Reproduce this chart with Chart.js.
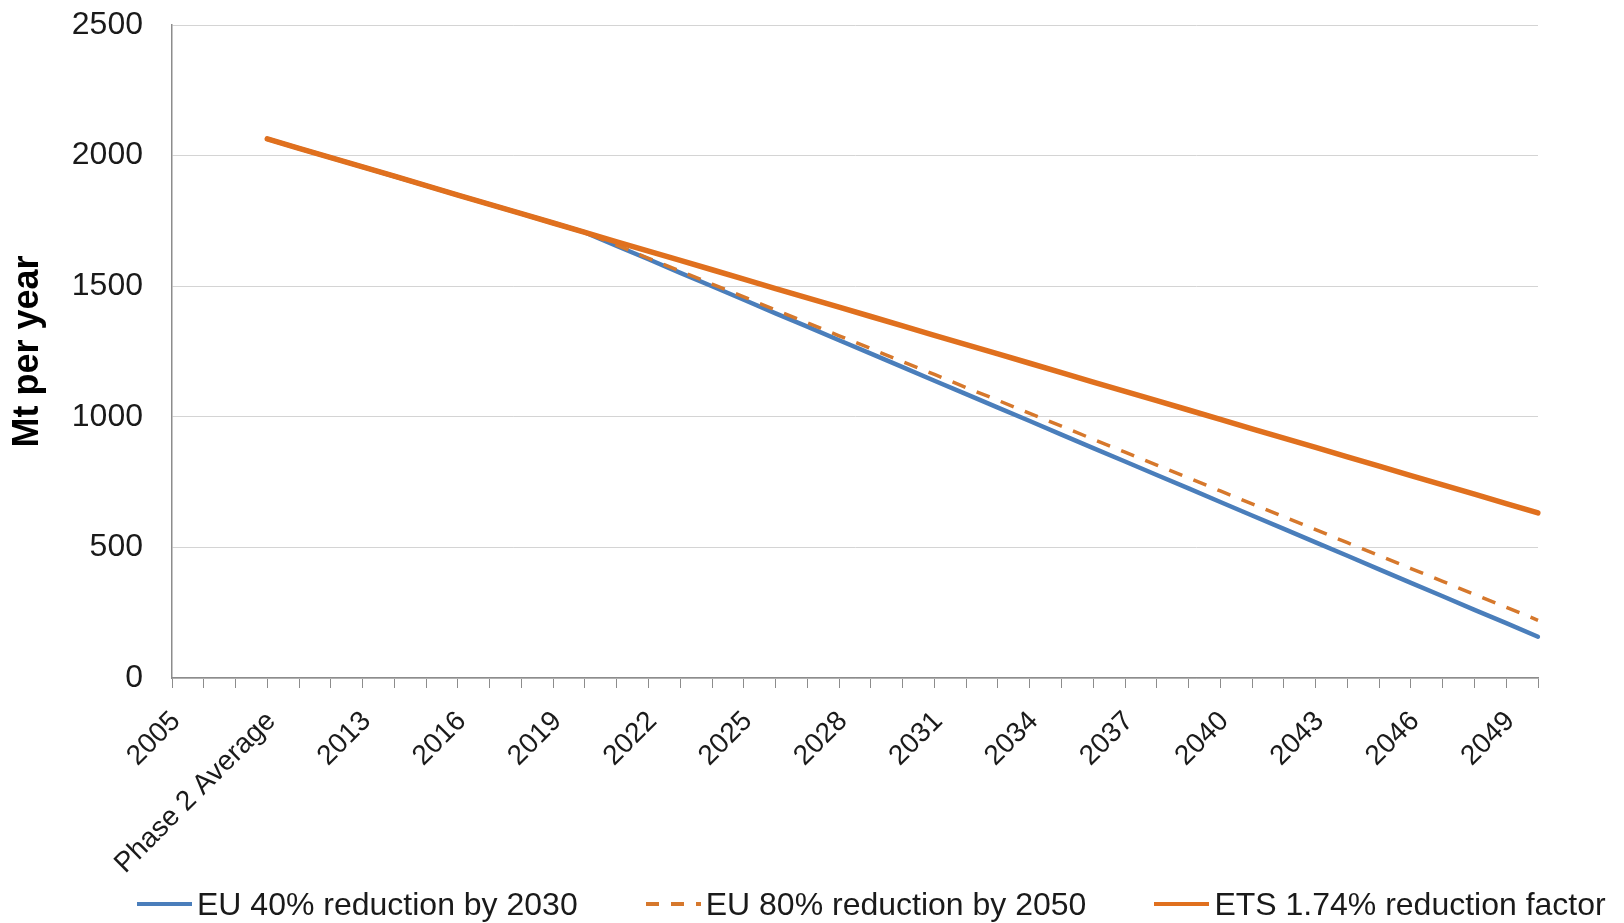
<!DOCTYPE html>
<html>
<head>
<meta charset="utf-8">
<title>EU ETS cap trajectories</title>
<script src="https://cdn.jsdelivr.net/npm/chart.js@4.4.1/dist/chart.umd.min.js"></script>
<style>
  html, body { margin: 0; padding: 0; background: #fff; }
  #wrap { position: relative; width: 1624px; height: 923px; }
  #legend {
    position: absolute; left: 137px; top: 888px;
    display: flex; gap: 68px; white-space: nowrap;
    font: 32px/32px 'Liberation Sans', Arial, sans-serif; color: #1a1a1a;
  }
  #legend .item { display: flex; align-items: center; }
  #legend .swatch { display: inline-block; width: 55px; margin-right: 5px; }
</style>
</head>
<body>
<div id="wrap">
  <canvas id="chart"></canvas>
  <div id="legend"></div>
</div>
<script>
// ─── Data ─────────────────────────────────────────────────────────────────────

const categories = [
  "2005", "2006", "2007", "Phase 2 Average", "2011", "2012",
  "2013", "2014", "2015", "2016", "2017", "2018", "2019", "2020",
  "2021", "2022", "2023", "2024", "2025", "2026", "2027", "2028",
  "2029", "2030", "2031", "2032", "2033", "2034", "2035", "2036",
  "2037", "2038", "2039", "2040", "2041", "2042", "2043", "2044",
  "2045", "2046", "2047", "2048", "2049", "2050",
];

// Mt per year
const eu40 = [
  null, null, null, 2064, 2028, 1992, 1957, 1921, 1885, 1849, 1813, 1778, 1742,
  1706, 1654, 1603, 1551, 1500, 1448, 1396, 1345, 1293, 1242, 1190,
  1138, 1087, 1035, 984, 932, 880, 829, 777, 726, 674,
  622, 571, 519, 468, 416, 364, 313, 261, 210, 158,
];

const eu80 = [
  null, null, null, 2064, 2028, 1992, 1957, 1921, 1885, 1849, 1813, 1778, 1742,
  1706, 1657, 1607, 1558, 1508, 1459, 1409, 1360, 1310, 1261, 1211,
  1162, 1112, 1063, 1013, 964, 914, 865, 815, 766, 716,
  667, 617, 568, 518, 469, 419, 370, 320, 271, 221,
];

const ets174 = [
  null, null, null, 2064, 2028, 1992, 1957, 1921, 1885, 1849, 1813, 1778, 1742,
  1706, 1670, 1634, 1599, 1563, 1527, 1491, 1455, 1420, 1384, 1348,
  1312, 1276, 1241, 1205, 1169, 1133, 1097, 1062, 1026, 990,
  954, 918, 883, 847, 811, 775, 739, 704, 668, 632,
];

const yTicks = { min: 0, max: 2500, step: 500 };

// ─── Styles ───────────────────────────────────────────────────────────────────

const FONT = "'Liberation Sans', Arial, sans-serif";
const TEXT = "#1a1a1a";
const AXIS = "#8c8c8c";
const GRID = "#d4d4d4";
const BLUE = "#4a7ebb";
const ORANGE = "#e0701e";
const ORANGE_DASH = "#d6782c";

// ─── Chart ────────────────────────────────────────────────────────────────────

const chart = new Chart(document.getElementById("chart"), {
  type: "line",
  data: {
    labels: categories,
    datasets: [
      {
        label: "EU 40% reduction by 2030",
        data: eu40,
        borderColor: BLUE,
        backgroundColor: BLUE,
        borderWidth: 4.5,
        borderCapStyle: "round",
        order: 2,
      },
      {
        label: "EU 80% reduction by 2050",
        data: eu80,
        borderColor: ORANGE_DASH,
        backgroundColor: ORANGE_DASH,
        borderWidth: 3.5,
        borderDash: [14, 12],
        order: 1,
      },
      {
        label: "ETS 1.74% reduction factor",
        data: ets174,
        borderColor: ORANGE,
        backgroundColor: ORANGE,
        borderWidth: 5.5,
        borderCapStyle: "round",
        order: 0,
      },
    ],
  },
  options: {
    responsive: true,
    maintainAspectRatio: false,
    animation: false,
    elements: { point: { radius: 0, hoverRadius: 0 }, line: { tension: 0 } },
    layout: { padding: { left: 0, right: 0, top: 25, bottom: 0 } },
    plugins: {
      tooltip: { enabled: false },
      legend: { display: false },
    },
    scales: {
      x: {
        grid: { display: true, drawOnChartArea: false, color: AXIS, tickLength: 10 },
        border: { color: AXIS, width: 1.5 },
        ticks: {
          autoSkip: false,
          minRotation: 45,
          maxRotation: 45,
          padding: 17,
          labelOffset: 4,
          color: TEXT,
          font: { family: FONT, size: 28 },
          callback: (v, i) => (i % 3 === 0 ? categories[i] : ""),
        },
        afterFit(scale) {
          scale.height = 245;
          scale.paddingLeft = 0;
          scale.paddingRight = 86;
        },
      },
      y: {
        min: yTicks.min,
        max: yTicks.max,
        grid: { color: GRID, drawTicks: false },
        border: { color: AXIS, width: 1.5 },
        ticks: {
          stepSize: yTicks.step,
          padding: 29,
          color: TEXT,
          font: { family: FONT, size: 32 },
          callback: v => String(v),
        },
        title: {
          display: true,
          text: "Mt per year",
          color: "#000",
          padding: { top: 6, bottom: 0 },
          font: { family: FONT, size: 36, weight: "bold" },
        },
        afterFit(scale) {
          scale.width = 172;
          scale.paddingTop = 0;
          scale.paddingBottom = 0;
        },
      },
    },
  },
});

// ─── Legend ───────────────────────────────────────────────────────────────────

function renderLegend(c) {
  const box = document.getElementById("legend");
  box.innerHTML = c.data.datasets.map(ds => {
    const dashed = ds.borderDash && ds.borderDash.length;
    const fill = dashed
      ? `repeating-linear-gradient(to right, ${ds.borderColor} 0 13px, transparent 13px 25px)`
      : ds.borderColor;
    const h = dashed ? 3.5 : 4.5;
    return `<div class="item"><span class="swatch" style="height:${h}px;background:${fill}"></span>${esc(ds.label)}</div>`;
  }).join("");
}

function esc(s) {
  return String(s)
    .replace(/&/g, "&amp;")
    .replace(/</g, "&lt;")
    .replace(/>/g, "&gt;");
}

renderLegend(chart);
</script>
</body>
</html>
